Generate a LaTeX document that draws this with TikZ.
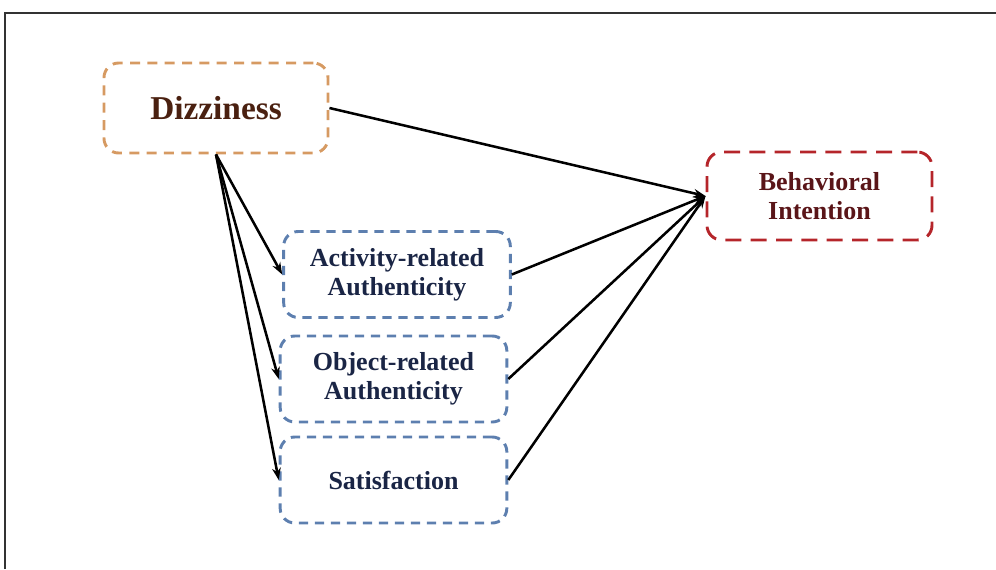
\documentclass[tikz,border=0pt]{standalone}
\usepackage{fontspec}
\setmainfont{Liberation Serif}
\usetikzlibrary{arrows.meta}
\definecolor{orng}{HTML}{D69A62}
\definecolor{rdd}{HTML}{B5252A}
\definecolor{blu}{HTML}{5D7FAF}
\definecolor{txtbr}{HTML}{4A2010}
\definecolor{txtrd}{HTML}{5A1518}
\definecolor{txtbl}{HTML}{1A2545}
\begin{document}
\begin{tikzpicture}[x=0.75pt,y=-0.75pt,
  box/.style={rounded corners=11pt, line width=2.2pt, align=center, inner sep=0pt,
    font=\bfseries\fontsize{19.5}{22}\selectfont},
  dizbox/.style={box, draw=orng, dash pattern=on 7.5pt off 5.5pt, text=txtbr,
    minimum width=168pt, minimum height=67.5pt, font=\bfseries\fontsize{25}{28}\selectfont},
  bibox/.style={box, draw=rdd, dash pattern=on 12pt off 7pt, text=txtrd,
    minimum width=168.75pt, minimum height=66pt},
  medbox/.style={box, draw=blu, dash pattern=on 7pt off 5pt, text=txtbl,
    minimum width=170pt, minimum height=64.5pt},
  conn/.style={line width=1.9pt, -{Stealth[length=9pt,width=6.5pt]}}
]
\useasboundingbox (0,0) rectangle (996,569);
\draw[line width=1.6pt, draw=black!80] (5,569) -- (5,13) -- (996,13);
\node[dizbox] (diz) at (216,108) {Dizziness};
\node[bibox] (bi) at (819.5,196) {Behavioral\\Intention};
\node[medbox] (act) at (397,274.5) {Activity-related\\Authenticity};
\node[medbox] (obj) at (393.5,379) {Object-related\\Authenticity};
\node[medbox] (sat) at (393.5,480) {Satisfaction};
\draw[conn] (diz.south) -- (act.west);
\draw[conn] (diz.south) -- (obj.west);
\draw[conn] (diz.south) -- (sat.west);
\draw[conn] (diz.east) -- (bi.west);
\draw[conn] (act.east) -- (bi.west);
\draw[conn] (obj.east) -- (bi.west);
\draw[conn] (sat.east) -- (bi.west);
\end{tikzpicture}
\end{document}
